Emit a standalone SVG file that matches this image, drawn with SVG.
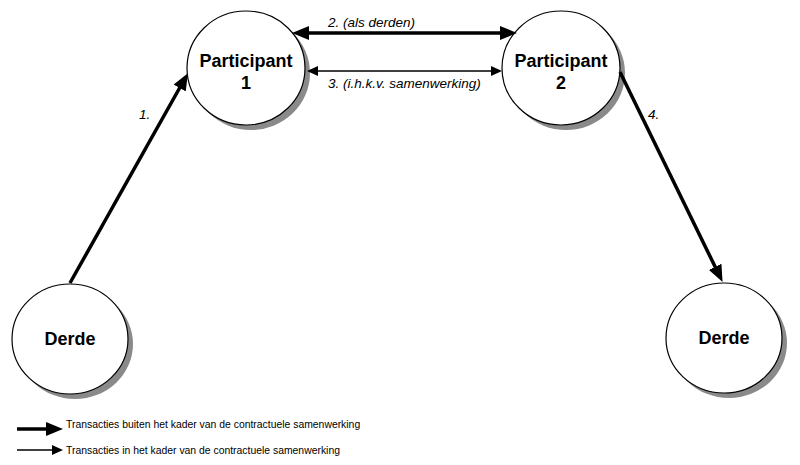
<svg xmlns="http://www.w3.org/2000/svg" width="800" height="465" viewBox="0 0 800 465">
<style>
.shadow{fill:#8a8a8a;stroke:none}
.node{fill:#fff;stroke:#000;stroke-width:1.2}
.name{font-family:"Liberation Sans",Arial,sans-serif;font-weight:bold;font-size:18px;text-anchor:middle;fill:#000}
.lbl{font-family:"Liberation Sans",Arial,sans-serif;font-style:italic;font-size:13.5px;fill:#000}
.leg{font-family:"Liberation Sans",Arial,sans-serif;font-size:10.4px;fill:#000}
.thick{stroke:#000;stroke-width:3.5;fill:none;marker-end:url(#hb)}
.thin{stroke:#000;stroke-width:1.6;fill:none;marker-end:url(#hs)}
</style>
<defs>
<marker id="hb" markerUnits="userSpaceOnUse" markerWidth="18" markerHeight="14" refX="12" refY="7" orient="auto-start-reverse" viewBox="0 0 18 14">
<path d="M0,0 L17,7 L0,14 z" fill="#000"/>
</marker>
<marker id="hs" markerUnits="userSpaceOnUse" markerWidth="12" markerHeight="10" refX="8" refY="5" orient="auto-start-reverse" viewBox="0 0 12 10">
<path d="M0,0 L11,5 L0,10 z" fill="#000"/>
</marker>
</defs>
<rect width="800" height="465" fill="#fff"/>
<g id="participant1">
<ellipse class="shadow" cx="251" cy="73" rx="59" ry="57"/>
<ellipse class="node" cx="246" cy="68" rx="59" ry="57"/>
<text class="name" x="246" y="67">Participant</text>
<text class="name" x="246" y="89">1</text>
</g>
<g id="participant2">
<ellipse class="shadow" cx="566" cy="73" rx="59" ry="57"/>
<ellipse class="node" cx="561" cy="68" rx="59" ry="57"/>
<text class="name" x="561" y="67">Participant</text>
<text class="name" x="561" y="89">2</text>
</g>
<g id="derde1">
<ellipse class="shadow" cx="75" cy="344" rx="58" ry="55"/>
<ellipse class="node" cx="70" cy="339" rx="58" ry="55"/>
<text class="name" x="70" y="345">Derde</text>
</g>
<g id="derde2">
<ellipse class="shadow" cx="729" cy="343" rx="58" ry="55"/>
<ellipse class="node" cx="724" cy="338" rx="58" ry="55"/>
<text class="name" x="724" y="344">Derde</text>
</g>
<g id="connectors">
<line class="thick" x1="70" y1="283" x2="185.5" y2="77.5"/>
<text class="lbl" x="139" y="119">1.</text>
<line class="thick" x1="620" y1="72" x2="720.4" y2="277.6"/>
<text class="lbl" x="648" y="119">4.</text>
<line class="thick" x1="297" y1="33" x2="512" y2="33" style="marker-start:url(#hb)"/>
<text class="lbl" x="328" y="27">2. (als derden)</text>
<line class="thin" x1="310" y1="71" x2="499" y2="71" style="marker-start:url(#hs)"/>
<text class="lbl" x="328" y="88">3. (i.h.k.v. samenwerking)</text>
</g>
<g id="legend">
<line class="thick" x1="17" y1="429" x2="58" y2="429"/>
<text class="leg" x="66" y="428">Transacties buiten het kader van de contractuele samenwerking</text>
<line class="thin" x1="17" y1="450" x2="60" y2="450"/>
<text class="leg" x="66" y="454">Transacties in het kader van de contractuele samenwerking</text>
</g>
</svg>
